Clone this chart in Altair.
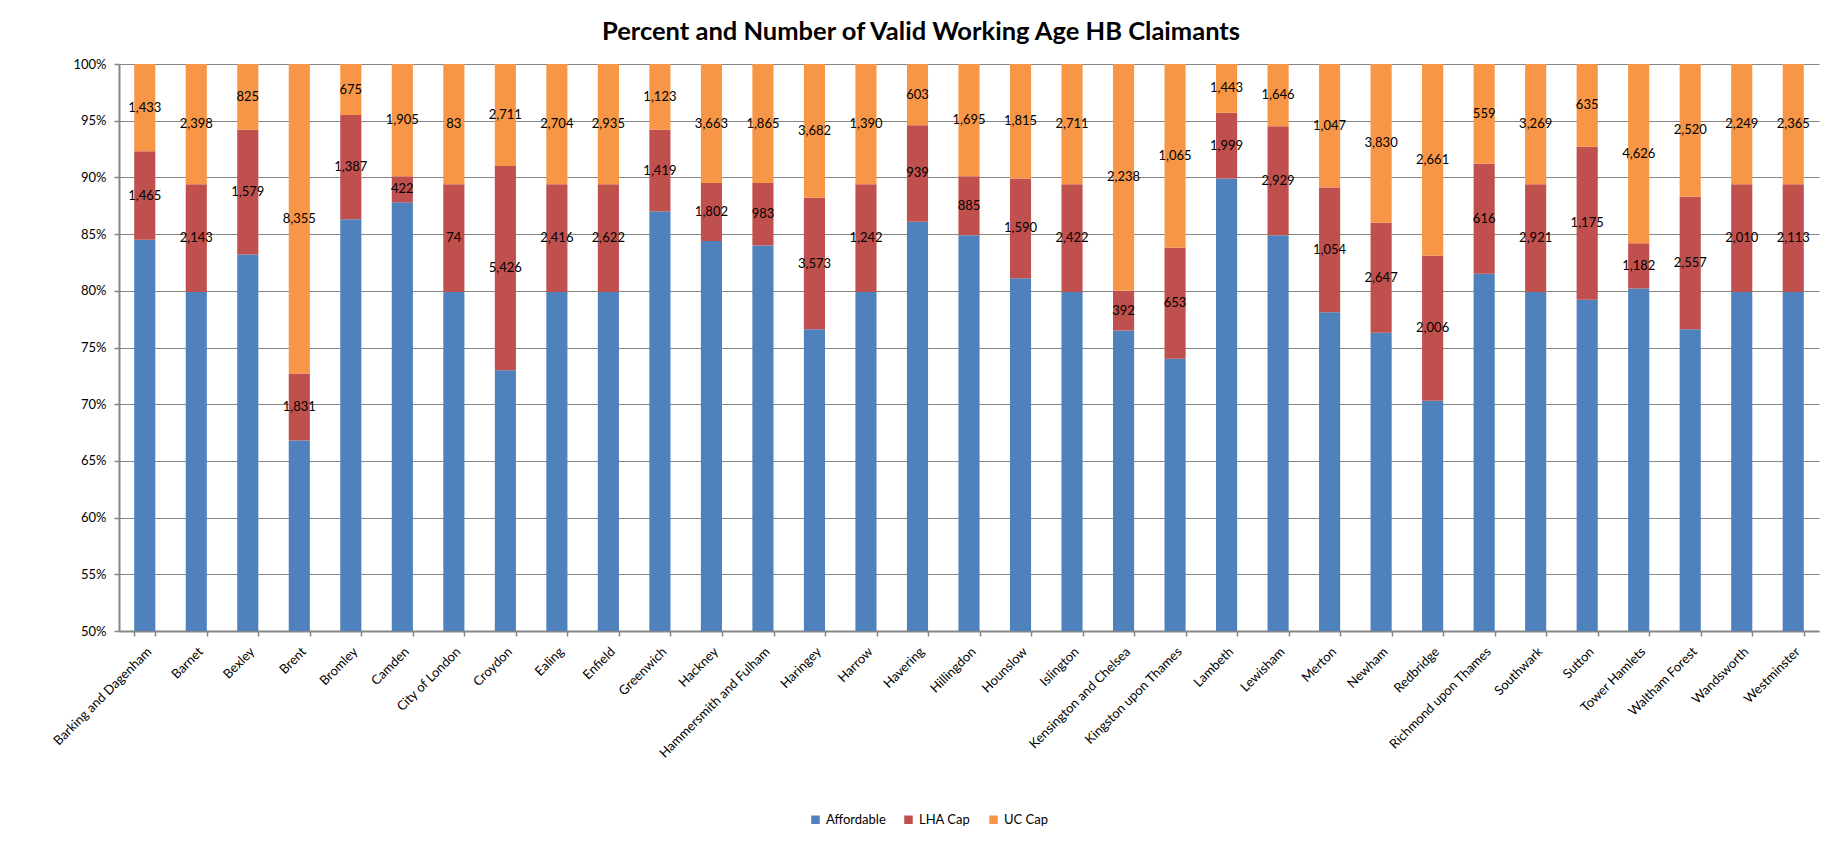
import altair as alt
import pandas as pd

boroughs = ["Barking and Dagenham", "Barnet", "Bexley", "Brent", "Bromley", "Camden",
            "City of London", "Croydon", "Ealing", "Enfield", "Greenwich", "Hackney",
            "Hammersmith  and Fulham", "Haringey", "Harrow", "Havering", "Hillingdon",
            "Hounslow", "Islington", "Kensington and Chelsea", "Kingston upon Thames",
            "Lambeth", "Lewisham", "Merton", "Newham", "Redbridge", "Richmond upon Thames",
            "Southwark", "Sutton", "Tower Hamlets", "Waltham Forest", "Wandsworth",
            "Westminster"]

# percentage shares of each segment
affordable_pct = [84.5, 79.9, 83.2, 66.8, 86.3, 87.8, 79.9, 73.0, 79.9, 79.9, 87.0, 84.4,
                  84.0, 76.6, 79.9, 86.1, 84.9, 81.1, 79.9, 76.5, 74.0, 89.9, 84.9, 78.1,
                  76.3, 70.3, 81.5, 79.9, 79.2, 80.2, 76.6, 79.9, 79.9]
lha_pct = [7.8, 9.5, 11.0, 5.9, 9.2, 2.3, 9.5, 18.0, 9.5, 9.5, 7.2, 5.1,
           5.5, 11.6, 9.5, 8.5, 5.2, 8.8, 9.5, 3.5, 9.8, 5.8, 9.6, 11.0,
           9.7, 12.8, 9.7, 9.5, 13.5, 4.0, 11.7, 9.5, 9.5]
uc_pct = [7.7, 10.6, 5.8, 27.3, 4.5, 9.9, 10.6, 9.0, 10.6, 10.6, 5.8, 10.5,
          10.5, 11.8, 10.6, 5.4, 9.9, 10.1, 10.6, 20.0, 16.2, 4.3, 5.5, 10.9,
          14.0, 16.9, 8.8, 10.6, 7.3, 15.8, 11.7, 10.6, 10.6]

# claimant counts shown as labels
lha_count = [1465, 2143, 1579, 1831, 1387, 422, 74, 5426, 2416, 2622, 1419, 1802,
             983, 3573, 1242, 939, 885, 1590, 2422, 392, 653, 1999, 2929, 1054,
             2647, 2006, 616, 2921, 1175, 1182, 2557, 2010, 2113]
uc_count = [1433, 2398, 825, 8355, 675, 1905, 83, 2711, 2704, 2935, 1123, 3663,
            1865, 3682, 1390, 603, 1695, 1815, 2711, 2238, 1065, 1443, 1646, 1047,
            3830, 2661, 559, 3269, 635, 4626, 2520, 2249, 2365]

series = ["Affordable", "LHA Cap", "UC Cap"]
colors = ["#4F81BD", "#C0504D", "#F79646"]

rows = []
for i, b in enumerate(boroughs):
    rows.append({"borough": b, "series": "Affordable", "ord": 0, "pct": affordable_pct[i], "count": None})
    rows.append({"borough": b, "series": "LHA Cap", "ord": 1, "pct": lha_pct[i], "count": lha_count[i]})
    rows.append({"borough": b, "series": "UC Cap", "ord": 2, "pct": uc_pct[i], "count": uc_count[i]})
df = pd.DataFrame(rows)

FONT = "Lato"
GRID = "#868686"

x_enc = alt.X("borough:N", sort=boroughs,
              scale=alt.Scale(paddingInner=0.59, paddingOuter=0.295),
              axis=alt.Axis(title=None, labelAngle=-45, labelFontSize=13, labelFont=FONT,
                            labelColor="#000000", labelPadding=9, tickBand="extent",
                            ticks=True, tickSize=5, tickColor=GRID, tickWidth=1.5,
                            domainColor=GRID, domainWidth=2, grid=False))

yscale = alt.Scale(domain=[50, 100], nice=False)

base = alt.Chart(df).transform_stack(
    stack="pct", as_=["y0", "y1"], groupby=["borough"],
    sort=[alt.SortField("ord", order="ascending")]
)

bars = base.mark_bar(clip=True).encode(
    x=x_enc,
    y=alt.Y("y0:Q", scale=yscale,
            axis=alt.Axis(title=None, values=[50, 55, 60, 65, 70, 75, 80, 85, 90, 95, 100],
                          labelExpr="datum.value + '%'", labelFontSize=13, labelFont=FONT,
                          labelColor="#000000", labelPadding=8, tickSize=5, tickColor=GRID,
                          tickWidth=1.5, domainColor=GRID, domainWidth=2,
                          gridColor=GRID, gridWidth=1.2)),
    y2="y1:Q",
    color=alt.Color("series:N", sort=series,
                    scale=alt.Scale(domain=series, range=colors),
                    legend=alt.Legend(title=None, orient="none", direction="horizontal",
                                      legendX=690, legendY=749, symbolType="square",
                                      symbolSize=72, symbolStrokeWidth=0, labelFontSize=13,
                                      labelFont=FONT, labelColor="#000000", labelOffset=4,
                                      columnPadding=16, padding=0)),
)

labels = base.transform_filter(
    "datum.series != 'Affordable'"
).transform_calculate(
    mid="(datum.y0 + datum.y1) / 2"
).mark_text(font=FONT, fontSize=13, color="#000000", baseline="middle", align="center").encode(
    x=alt.X("borough:N", sort=boroughs),
    y=alt.Y("mid:Q", scale=yscale),
    text=alt.Text("count:Q", format=","),
)

chart = alt.layer(bars, labels).properties(
    width=1700, height=567,
    title=alt.TitleParams("Percent and Number of Valid Working Age HB Claimants",
                          font=FONT, fontSize=25.5, fontWeight="bold", color="#000000",
                          anchor="middle", frame="group", dx=-48, offset=13),
    autosize=alt.AutoSizeParams(type="none"),
    padding={"left": 111, "top": 56, "right": 14, "bottom": 202},
).configure_view(stroke=None)

chart.save("out.html", embed_options={"renderer": "svg", "actions": False})
